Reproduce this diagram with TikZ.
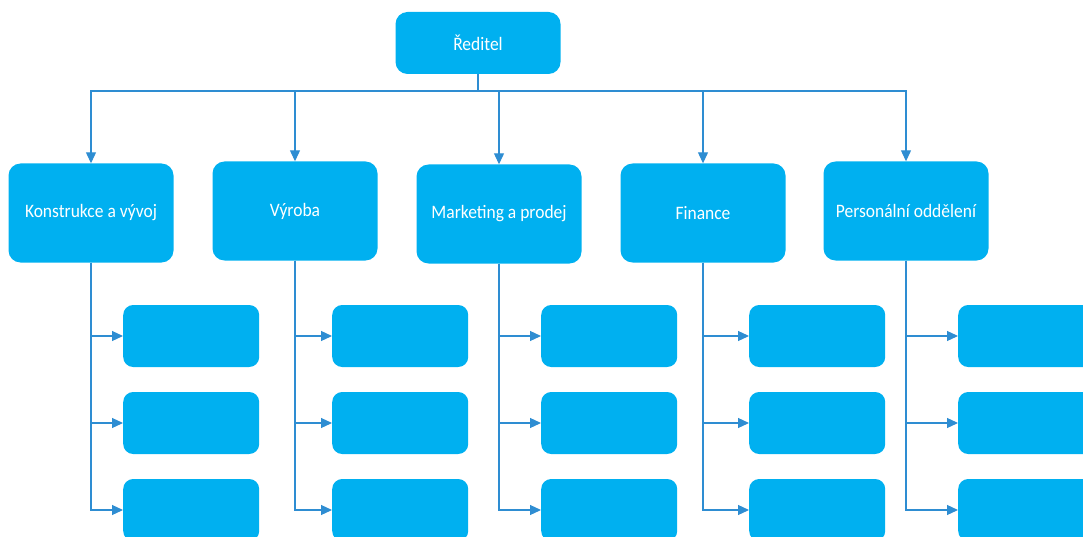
\documentclass[tikz,border=0pt]{standalone}
\usepackage{fontspec}
\setmainfont{Carlito}[FakeStretch=0.92]
\usetikzlibrary{arrows.meta}
\definecolor{boxblue}{HTML}{00B0F0}
\definecolor{linkblue}{HTML}{2E8DD2}
\begin{document}
\begin{tikzpicture}[x=1pt,y=-1pt,
  orgbox/.style={fill=boxblue,draw=none,rounded corners=12pt,inner sep=0pt,
    text=white,font=\fontsize{19}{22}\selectfont},
  deptbox/.style={orgbox,minimum width=165pt,minimum height=99pt},
  subbox/.style={fill=boxblue,draw=none,rounded corners=10pt,inner sep=0pt,
    minimum width=136pt,minimum height=62pt},
  link/.style={draw=linkblue,line width=1.2pt},
  arr/.style={link,-{Triangle[length=11pt,width=10pt]}}]
\useasboundingbox (0,0) rectangle (1083,537);
\clip (0,0) rectangle (1083,537);

% director
\node[orgbox,minimum width=165pt,minimum height=62pt] (dir) at (478,43) {Ředitel};

% departments
\node[deptbox] (k) at (91,213) {Konstrukce a vývoj};
\node[deptbox] (v) at (295,211) {Výroba};
\node[deptbox] (m) at (499,214) {Marketing a prodej};
\node[deptbox] (f) at (703,213) {Finance};
\node[deptbox] (p) at (906,211) {Personální oddělení};

% bus from the director
\coordinate (bus) at (478,91);
\draw[link] (dir.south) -- (bus);
\foreach \d in {k,v,m,f,p}
  \draw[arr] (bus) -| (\d.north);

% sub-units: left edge of each column and row centres
\foreach \d/\xl in {k/123,v/332,m/541,f/749,p/958}{
  \foreach \r/\yc in {1/336,2/423,3/510}{
    \node[subbox,anchor=west] (\d\r) at (\xl,\yc) {};
    \draw[arr] (\d.south) |- (\d\r.west);
  }
}
\end{tikzpicture}
\end{document}
